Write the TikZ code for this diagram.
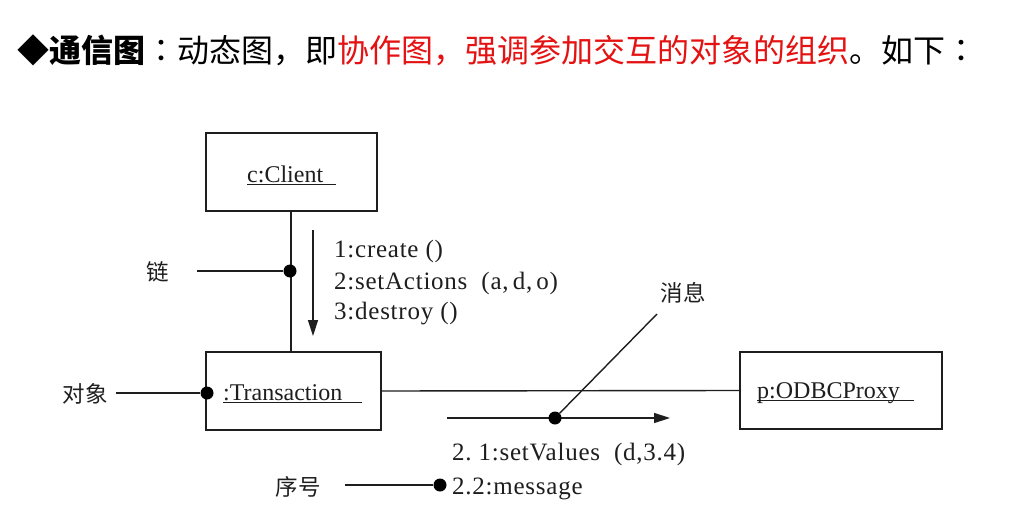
\documentclass[tikz,border=0pt]{standalone}
\usepackage{fontspec}
\setmainfont{Liberation Serif}
\newfontfamily\msgfont{Liberation Serif}[LetterSpace=3]
\newfontfamily\cjk{Noto Sans CJK SC}
\newfontfamily\cjkjp{Noto Sans CJK JP}
\usetikzlibrary{arrows.meta}
\definecolor{redtxt}{RGB}{228,18,18}
\definecolor{ink}{RGB}{30,30,30}
\begin{document}
\begin{tikzpicture}[x=1pt,y=-1pt,
  obj/.style={draw=ink, line width=1.4pt, rectangle, inner sep=0pt},
  lbl/.style={font=\fontsize{24}{28}\selectfont, text=ink, inner sep=0pt},
  mlbl/.style={font=\msgfont\fontsize{25}{29}\selectfont, text=ink, inner sep=0pt},
  cn/.style={font=\cjk\fontsize{22.5}{26}\selectfont, text=ink, inner sep=0pt},
  dotn/.style={circle, fill=black, inner sep=0pt, minimum size=13pt},
  wire/.style={draw=ink, line width=1.4pt},
  msg/.style={draw=ink, line width=1.4pt, -{Triangle[length=16pt,width=10pt]}},
  ]
\useasboundingbox[fill=white] (0,0) rectangle (1021,530);

% title
\node[anchor=west, inner sep=0pt, font=\cjk\fontsize{32}{38}\selectfont] (title) at (17,50)
  {◆\textbf{通信图}{\cjkjp：}动态图，即\textcolor{redtxt}{协作图，强调参加交互的对象的组织}。如下{\cjkjp：}};

% objects
\node[obj, minimum width=171pt, minimum height=78pt] (client) at (291.5,172) {};
\node[lbl, anchor=base west] (clientt) at (247,182) {c:Client};
\draw[ink, line width=1pt] ([yshift=-2pt]clientt.base west) -- ([xshift=13pt,yshift=-2pt]clientt.base east);

\node[obj, minimum width=175pt, minimum height=78pt] (trans) at (293.5,391) {};
\node[lbl, anchor=base west] (transt) at (223,400) {:Transaction};
\draw[ink, line width=1pt] ([yshift=-2pt]transt.base west) -- ([xshift=19pt,yshift=-2pt]transt.base east);

\node[obj, minimum width=202pt, minimum height=77pt] (odbc) at (841,390.5) {};
\node[lbl, anchor=base west] (odbct) at (757,398) {p:ODBCProxy};
\draw[ink, line width=1pt] ([yshift=-2pt]odbct.base west) -- ([xshift=14pt,yshift=-2pt]odbct.base east);

% links
\draw[wire] (client.south -| 291,0) -- (trans.north -| 291,0);
\draw[wire] (trans.east) -- (odbc.west);

% link annotation
\node[dotn] (d1) at (290,271) {};
\node[cn] (lian) at (158,272) {链};
\coordinate (l1) at (197,271);
\draw[wire] (l1) -- (d1);

% object annotation
\node[dotn] (d2) at (207,393) {};
\node[cn] (duix) at (85,394) {对象};
\coordinate (l2) at (116,393);
\draw[wire] (l2) -- (d2);

% message 1
\coordinate (m1s) at (313,230);
\coordinate (m1e) at (313,336);
\draw[msg] (m1s) -- (m1e);
\node[mlbl, anchor=base west] (t1) at (334,257) {1:create ()};
\node[mlbl, anchor=base west] (t2) at (334,289) {2:setActions\ \ (a,\,d,\,o)};
\node[mlbl, anchor=base west] (t3) at (334,319) {3:destroy ()};

% message 2
\coordinate (m2s) at (447,418);
\coordinate (m2e) at (670,418);
\draw[msg] (m2s) -- (m2e);
\node[dotn] (d3) at (555,418) {};
\coordinate (m2l) at (657,314);
\draw[wire] (d3) -- (m2l);
\node[cn] (xiaoxi) at (683,293) {消息};
\node[mlbl, anchor=base west] (t4) at (452,460) {2.\ 1:setValues\ \ (d,3.4)};
\node[mlbl, anchor=base west] (t5) at (452,494) {2.2:message};

% sequence annotation
\node[dotn] (d4) at (440,485) {};
\node[cn] (xuhao) at (298,487) {序号};
\coordinate (l4) at (345,485);
\draw[wire] (l4) -- (d4);
\end{tikzpicture}
\end{document}
